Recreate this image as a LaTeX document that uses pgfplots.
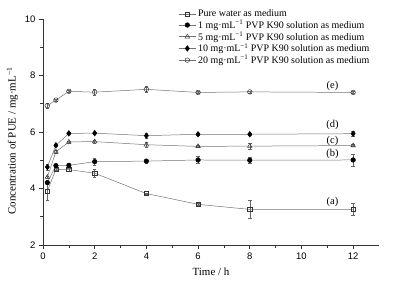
\documentclass[border=0pt]{standalone}
\usepackage{pgfplots}
\pgfplotsset{compat=1.18}
\usepackage{fontspec}
\setmainfont{Liberation Serif}
\newfontfamily\arialf{Liberation Sans}
\newcommand{\mgml}{mg·mL\textsuperscript{−1}}
\pgfplotsset{
  eb/.style={error bars/.cd, y dir=both, y explicit,
    error bar style={black!60, line width=0.4pt},
    error mark options={rotate=90, mark size=1.8bp, black!60, line width=0.4pt}},
}
\begin{document}
\begin{tikzpicture}
\begin{axis}[
  scale only axis, width=336bp, height=226bp,
  xmin=0, xmax=13, ymin=2, ymax=10,
  axis lines*=left,
  axis line style={black!80, line width=0.6pt},
  tick align=outside, tick pos=left,
  xtick={0,2,...,12}, ytick={2,4,...,10},
  minor x tick num=1, minor y tick num=1,
  major tick length=4bp, minor tick length=2.5bp,
  tick style={black!80, line width=0.6pt},
  ticklabel style={font=\arialf\fontsize{9.5}{10}\selectfont},
  /pgf/number format/assume math mode=true,
  xlabel={Time / h},
  xlabel style={yshift=-2bp},
  ylabel={Concentration of PUE / \mgml},
  ylabel style={at={(ticklabel cs:0.46)}},
  label style={font=\fontsize{11}{12}\selectfont},
  legend style={draw=none, fill=none, at={(rel axis cs:0.40,1.055)}, anchor=north west,
    font=\fontsize{10}{11}\selectfont, row sep=-2pt, inner sep=1pt},
  legend cell align=left,
  every axis plot/.append style={line width=0.5pt, color=black!55, mark size=2.3bp},
  clip=false,
]
% (a) pure water
\addplot[mark=square, mark options={draw=black!80, fill=white, mark size=2.1bp}, eb] coordinates {
  (0.167,3.91) +- (0,0.33)
  (0.5,4.68) +- (0,0.04)
  (1,4.67) +- (0,0.06)
  (2,4.54) +- (0,0.15)
  (4,3.82) +- (0,0.03)
  (6,3.44) +- (0,0.03)
  (8,3.26) +- (0,0.31)
  (12,3.26) +- (0,0.22)
};
\addlegendentry{Pure water as medium}
% (b) 1 mg
\addplot[mark=*, mark options={draw=black, fill=black}, eb] coordinates {
  (0.167,4.21) +- (0,0.05)
  (0.5,4.81) +- (0,0.05)
  (1,4.82) +- (0,0.05)
  (2,4.95) +- (0,0.12)
  (4,4.97) +- (0,0.08)
  (6,5.01) +- (0,0.12)
  (8,5.00) +- (0,0.12)
  (12,5.01) +- (0,0.22)
};
\addlegendentry{1 \mgml{} PVP K90 solution as medium}
% (c) 5 mg
\addplot[mark=triangle, mark options={draw=black!80, fill=white, mark size=2.6bp}, eb] coordinates {
  (0.167,4.40) +- (0,0.05)
  (0.5,5.30) +- (0,0.04)
  (1,5.65) +- (0,0.04)
  (2,5.66) +- (0,0.04)
  (4,5.55) +- (0,0.08)
  (6,5.49) +- (0,0.04)
  (8,5.50) +- (0,0.1)
  (12,5.52) +- (0,0.04)
};
\addlegendentry{5 \mgml{} PVP K90 solution as medium}
% (d) 10 mg
\addplot[mark=diamond*, mark options={draw=black, fill=black, mark size=2.8bp}, eb] coordinates {
  (0.167,4.76) +- (0,0.1)
  (0.5,5.53) +- (0,0.04)
  (1,5.95) +- (0,0.04)
  (2,5.96) +- (0,0.04)
  (4,5.87) +- (0,0.1)
  (6,5.92) +- (0,0.05)
  (8,5.92) +- (0,0.05)
  (12,5.94) +- (0,0.1)
};
\addlegendentry{10 \mgml{} PVP K90 solution as medium}
% (e) 20 mg
\addplot[mark=o, mark options={draw=black!80, fill=white}, eb] coordinates {
  (0.167,6.93) +- (0,0.1)
  (0.5,7.13) +- (0,0.04)
  (1,7.44) +- (0,0.04)
  (2,7.41) +- (0,0.12)
  (4,7.51) +- (0,0.1)
  (6,7.40) +- (0,0.04)
  (8,7.42) +- (0,0.04)
  (12,7.40) +- (0,0.04)
};
\addlegendentry{20 \mgml{} PVP K90 solution as medium}
\node[font=\fontsize{10.5}{11}\selectfont] at (axis cs:11.2,7.64) {(e)};
\node[font=\fontsize{10.5}{11}\selectfont] at (axis cs:11.2,6.25) {(d)};
\node[font=\fontsize{10.5}{11}\selectfont] at (axis cs:11.2,5.69) {(c)};
\node[font=\fontsize{10.5}{11}\selectfont] at (axis cs:11.2,5.22) {(b)};
\node[font=\fontsize{10.5}{11}\selectfont] at (axis cs:11.2,3.51) {(a)};
\coordinate (sw) at (rel axis cs:0,0);
\coordinate (ne) at (rel axis cs:1,1);
\end{axis}
\pgfresetboundingbox
\path ([shift={(-43bp,-39bp)}]sw) rectangle ([shift={(14bp,19bp)}]ne);
\end{tikzpicture}
\end{document}
